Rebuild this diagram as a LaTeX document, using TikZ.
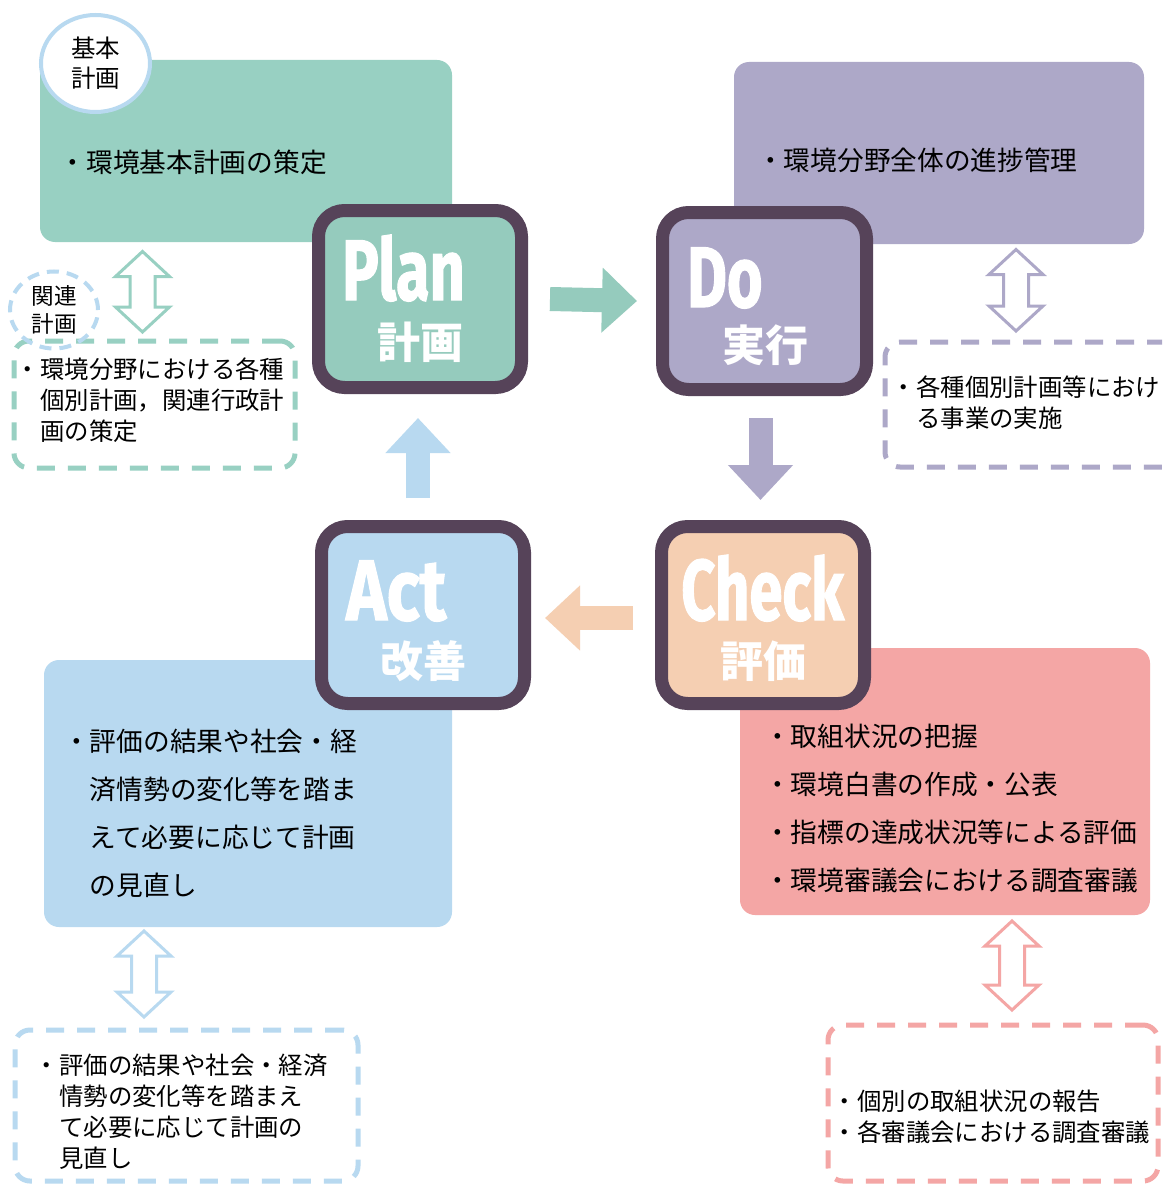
\documentclass[tikz,border=0pt]{standalone}
\usepackage{fontspec}
\usepackage{graphicx}
\newfontfamily\jp{Noto Sans CJK JP}
\newfontfamily\lat[FakeBold=1.5]{Fira Sans}
\usetikzlibrary{arrows.meta,calc,shapes.geometric}
\definecolor{cgreen}{HTML}{98D0C2}
\definecolor{cgreenin}{HTML}{95CBBD}
\definecolor{cpurple}{HTML}{ADA8C8}
\definecolor{cpeach}{HTML}{F5CFB2}
\definecolor{cpink}{HTML}{F4A6A5}
\definecolor{cblue}{HTML}{B8D9F0}
\definecolor{cdark}{HTML}{564359}
\newcommand\dblarr[3]{%
  \draw[dbl, draw=#1] (#2) -- ++(27,25) -- ++(-14.5,0) -- ($(#3)+(12.5,-25)$) -- ++(14.5,0) -- (#3)
    -- ++(-27,-25) -- ++(14.5,0) -- ($(#2)+(-12.5,25)$) -- ++(-14.5,0) -- cycle;}
\begin{document}
\begin{tikzpicture}[x=1pt,y=-1pt,
  bigbox/.style={draw=none, rounded corners=15pt, inner sep=0pt, outer sep=0pt},
  pdca/.style={draw=cdark, line width=13pt, rounded corners=26pt, minimum width=203pt, minimum height=177pt, inner sep=0pt, outer sep=6.5pt},
  dashbox/.style={draw=#1, line width=5pt, dash pattern=on 18pt off 13pt, rounded corners=15pt, inner sep=0pt},
  txt/.style={font=\jp\fontsize{26.7}{48}\selectfont, align=left, anchor=west, inner sep=0pt},
  stxt/.style={font=\jp\fontsize{24.4}{31}\selectfont, align=left, anchor=west, inner sep=0pt},
  fat/.style={line width=24pt, -{Triangle[length=35pt,width=63pt]}},
  dbl/.style={line width=3pt, fill=white, line join=miter},
  bigword/.style={text=white, inner sep=0pt, anchor=base west, font=\lat\bfseries\fontsize{86}{86}\selectfont},
  kanji/.style={text=white, inner sep=0pt, font=\jp\bfseries\fontsize{43}{43}\selectfont},
]
\useasboundingbox (0,0) rectangle (1162,1185);
\clip (0,0) rectangle (1162,1185);
\fill[white] (0,0) rectangle (1162,1185);

% big info boxes
\node[bigbox, fill=cgreen, minimum width=412pt, minimum height=182pt] (planinfo) at (246,151) {};
\node[bigbox, fill=cpurple, minimum width=410pt, minimum height=182pt] (doinfo) at (939,153) {};
\node[bigbox, fill=cpink, minimum width=410pt, minimum height=267pt] (checkinfo) at (945,781.5) {};
\node[bigbox, fill=cblue, minimum width=408pt, minimum height=267pt] (actinfo) at (248,793.5) {};

% label circle
\node[ellipse, draw=cblue, line width=4pt, fill=white, minimum width=109pt, minimum height=97pt, inner sep=0pt,
  font=\jp\fontsize{24.5}{30}\selectfont, align=center] (kihon) at (95.5,63.5) {基本\\計画};

% texts in big boxes
\node[txt] (tplan) at (59.5,162) {・環境基本計画の策定};
\node[txt] (tdo) at (757,160) {・環境分野全体の進捗管理};
\node[txt] (tact) at (63,813) {・評価の結果や社会・経\\\hspace*{1em}済情勢の変化等を踏ま\\\hspace*{1em}えて必要に応じて計画\\\hspace*{1em}の見直し};
\node[txt] (tcheck) at (764,808) {・取組状況の把握\\・環境白書の作成・公表\\・指標の達成状況等による評価\\・環境審議会における調査審議};

% PDCA boxes
\node[pdca, fill=cgreenin] (plan) at (420,299) {};
\node[pdca, fill=cpurple, minimum width=204pt] (do) at (764.5,301) {};
\node[pdca, fill=cpeach] (check) at (763,615) {};
\node[pdca, fill=cblue] (act) at (423,615) {};

\node[bigword] (wplan) at (342,300) {\scalebox{0.71}[1]{Plan}};
\node[bigword] (wdo) at (687,307) {\scalebox{0.71}[1]{Do}};
\node[bigword] (wcheck) at (681,620) {\scalebox{0.695}[1]{Check}};
\node[bigword] (wact) at (346,620) {\scalebox{0.8}[1]{Act}};

\node[kanji] (kplan) at (420,342) {計画};
\node[kanji] (kdo) at (765,345) {実行};
\node[kanji] (kcheck) at (763,661) {評価};
\node[kanji] (kact) at (423,661) {改善};

% cycle arrows
\draw[fat, draw=cgreenin] ([xshift=22pt]plan.east) -- ([xshift=-19pt]do.west);
\draw[fat, draw=cpurple] ([xshift=-4pt,yshift=-22pt]do.south) -- ([xshift=-2.5pt,yshift=20pt]check.north);
\draw[fat, draw=cpeach] ([xshift=-22pt,yshift=-3pt]check.west) -- ([xshift=14pt,yshift=-3pt]act.east);
\draw[fat, draw=cblue] ([xshift=-5pt,yshift=22pt]act.north) -- ([xshift=-2pt,yshift=-24pt]plan.south);

% dashed boxes
\node[dashbox=cgreen, minimum width=281pt, minimum height=127pt] (plandash) at (154.5,404.5) {};
\node[dashbox=cpurple, minimum width=295pt, minimum height=125pt] (dodash) at (1032.5,404.5) {};
\node[dashbox=cblue, minimum width=343pt, minimum height=151pt] (actdash) at (186.5,1105.5) {};
\node[dashbox=cpink, minimum width=330pt, minimum height=156pt] (checkdash) at (993,1103) {};

\node[ellipse, draw=cblue, line width=4pt, dash pattern=on 12pt off 8pt, minimum width=88pt, minimum height=77pt, inner sep=0pt,
  font=\jp\fontsize{22.6}{28}\selectfont, align=center] (kanren) at (54,310) {関連\\計画};

\node[stxt] (tplandash) at (15.6,400) {・環境分野における各種\\\hspace*{1em}個別計画，関連行政計\\\hspace*{1em}画の策定};
\node[stxt] (tdodash) at (891.6,402.5) {・各種個別計画等におけ\\\hspace*{1em}る事業の実施};
\node[stxt] (tactdash) at (34.6,1111.5) {・評価の結果や社会・経済\\\hspace*{1em}情勢の変化等を踏まえ\\\hspace*{1em}て必要に応じて計画の\\\hspace*{1em}見直し};
\node[stxt] (tcheckdash) at (832.6,1116.5) {・個別の取組状況の報告\\・各審議会における調査審議};

% double arrows
\coordinate (g1) at (142.5,251.5); \coordinate (g2) at (142.5,332);
\coordinate (p1) at (1016,249.5);  \coordinate (p2) at (1016,331);
\coordinate (b1) at (144,931);     \coordinate (b2) at (144,1017);
\coordinate (r1) at (1012,921);    \coordinate (r2) at (1012,1010);
\dblarr{cgreen}{g1}{g2}
\dblarr{cpurple}{p1}{p2}
\dblarr{cblue}{b1}{b2}
\dblarr{cpink}{r1}{r2}
\end{tikzpicture}
\end{document}
